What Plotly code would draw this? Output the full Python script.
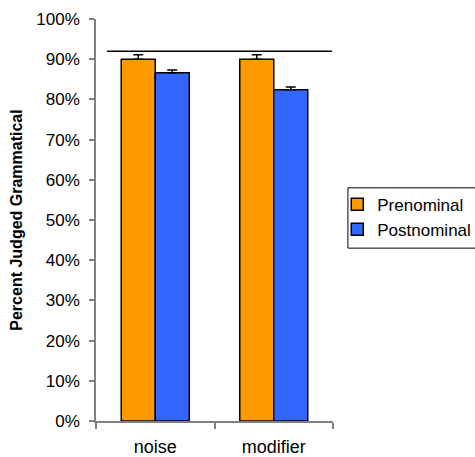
import plotly.graph_objects as go

categories = ["noise", "modifier"]
prenominal = [0.90, 0.90]
postnominal = [0.866, 0.824]
prenominal_err = [0.011, 0.011]
postnominal_err = [0.007, 0.007]
reference_level = 0.92

fig = go.Figure()
fig.add_trace(go.Bar(
    name="Prenominal", x=categories, y=prenominal, legendgroup="pre",
    marker=dict(color="#FF9900", line=dict(color="black", width=1.5)),
    error_y=dict(type="data", array=prenominal_err, arrayminus=[0, 0],
                 color="black", thickness=1.5, width=5),
))
fig.add_trace(go.Bar(
    name="Postnominal", x=categories, y=postnominal, legendgroup="post",
    marker=dict(color="#3366FF", line=dict(color="black", width=1.5)),
    error_y=dict(type="data", array=postnominal_err, arrayminus=[0, 0],
                 color="black", thickness=1.5, width=5),
))

# horizontal reference line across the plot
fig.add_shape(type="line", xref="paper", yref="y",
              x0=0.046, x1=0.996, y0=reference_level, y1=reference_level,
              line=dict(color="black", width=1.5))

# frame around the legend
fig.add_shape(type="rect", xref="paper", yref="paper",
              x0=1.063, x1=1.65, y0=0.430, y1=0.580,
              line=dict(color="black", width=1), fillcolor="rgba(0,0,0,0)")

fig.update_layout(
    width=475, height=457,
    margin=dict(l=96, r=142, t=19, b=36, autoexpand=False),
    paper_bgcolor="white", plot_bgcolor="white",
    barmode="group", bargap=0.426, bargroupgap=0,
    font=dict(family="Liberation Sans, Arial, sans-serif", size=17, color="black"),
    showlegend=True,
    legend=dict(x=1.018, y=0.583, xanchor="left", yanchor="top",
                borderwidth=0, bgcolor="rgba(0,0,0,0)",
                font=dict(size=17), tracegroupgap=6,
                traceorder="normal"),
)
fig.update_xaxes(
    showline=True, linecolor="#808080", linewidth=1.5,
    ticks="outside", tickson="boundaries", ticklen=6, tickcolor="#808080", tickwidth=1.5,
    ticklabelstandoff=9, tickfont=dict(size=18),
    showgrid=False,
)
fig.update_yaxes(
    range=[0, 1], dtick=0.1, tickformat=".0%",
    showline=True, linecolor="#808080", linewidth=1.5,
    ticks="outside", ticklen=5, tickcolor="#808080", tickwidth=1.5,
    ticklabelstandoff=6, tickfont=dict(size=17),
    showgrid=False, zeroline=False,
    title=dict(text="<b>Percent Judged Grammatical</b>", font=dict(size=16), standoff=10),
)

fig.write_html("out.html")
